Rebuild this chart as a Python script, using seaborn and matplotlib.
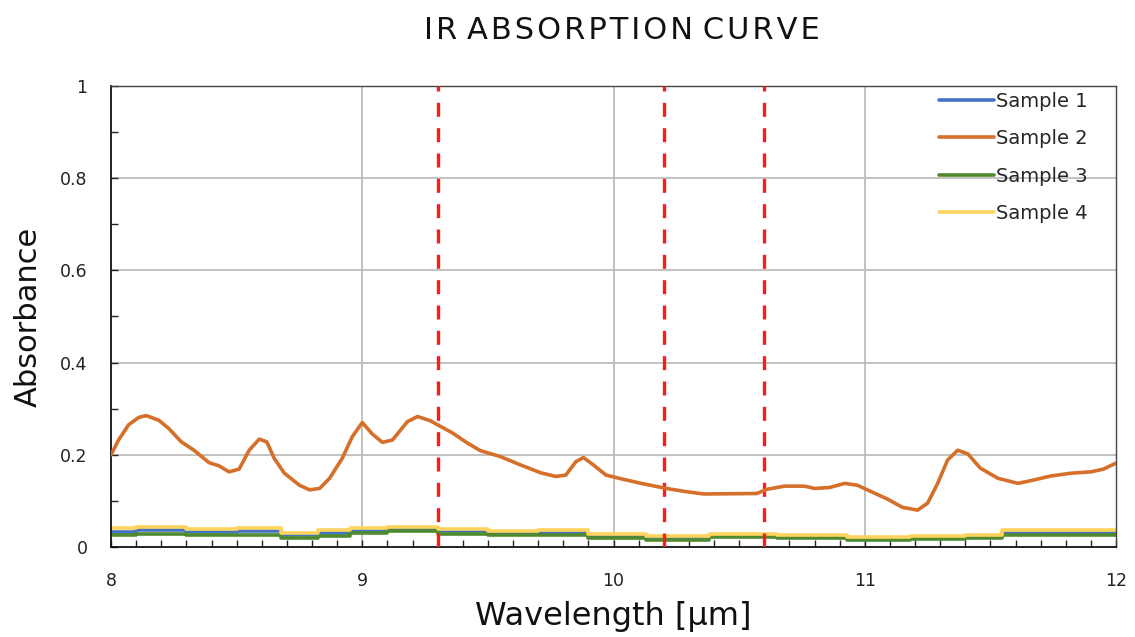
import numpy as np
import pandas as pd
import seaborn as sns
from matplotlib import pyplot as plt

# wavelength (um) and absorbance
wl2 = [8.0, 8.03, 8.07, 8.11, 8.14, 8.19, 8.23, 8.28, 8.33, 8.39, 8.43, 8.47, 8.51, 8.55,
       8.59, 8.62, 8.65, 8.69, 8.75, 8.79, 8.83, 8.87, 8.92, 8.96, 9.0, 9.04, 9.08, 9.12,
       9.18, 9.22, 9.27, 9.31, 9.36, 9.42, 9.47, 9.55, 9.63, 9.71, 9.77, 9.81, 9.85, 9.88,
       9.92, 9.97, 10.03, 10.11, 10.21, 10.29, 10.36, 10.57, 10.61, 10.68, 10.76, 10.80,
       10.86, 10.92, 10.97, 11.01, 11.09, 11.15, 11.21, 11.25, 11.29, 11.33, 11.37, 11.41,
       11.46, 11.53, 11.61, 11.67, 11.74, 11.82, 11.90, 11.95, 12.0]
sample2 = [0.200, 0.232, 0.265, 0.281, 0.285, 0.275, 0.257, 0.228, 0.210, 0.183, 0.176,
           0.163, 0.169, 0.210, 0.234, 0.228, 0.192, 0.160, 0.134, 0.124, 0.127, 0.149,
           0.192, 0.239, 0.270, 0.245, 0.227, 0.232, 0.272, 0.283, 0.274, 0.262, 0.247,
           0.225, 0.209, 0.196, 0.178, 0.161, 0.153, 0.156, 0.185, 0.194, 0.178, 0.156,
           0.148, 0.138, 0.127, 0.120, 0.115, 0.116, 0.125, 0.132, 0.132, 0.127, 0.129,
           0.138, 0.134, 0.124, 0.104, 0.086, 0.080, 0.095, 0.138, 0.189, 0.210, 0.202,
           0.171, 0.149, 0.138, 0.145, 0.154, 0.160, 0.163, 0.169, 0.182]

wl_low = [8.0, 8.2, 8.4, 8.6, 8.75, 8.9, 9.0, 9.2, 9.4, 9.6, 9.8, 10.0, 10.26, 10.5,
          10.8, 11.06, 11.3, 11.5, 11.59, 11.8, 12.0]
sample1 = [0.033, 0.036, 0.033, 0.034, 0.026, 0.030, 0.035, 0.039, 0.034, 0.030, 0.031,
           0.024, 0.021, 0.024, 0.023, 0.019, 0.020, 0.022, 0.031, 0.030, 0.030]
sample3 = [0.026, 0.029, 0.026, 0.027, 0.020, 0.024, 0.030, 0.035, 0.029, 0.025, 0.027,
           0.020, 0.015, 0.021, 0.019, 0.015, 0.017, 0.019, 0.026, 0.026, 0.026]
sample4 = [0.041, 0.044, 0.040, 0.041, 0.030, 0.036, 0.041, 0.043, 0.040, 0.035, 0.037,
           0.029, 0.024, 0.029, 0.027, 0.022, 0.024, 0.027, 0.037, 0.036, 0.036]

red_lines = [9.3, 10.2, 10.6]

series = [('Sample 1', wl_low, sample1, '#4472C4'),
          ('Sample 2', wl2, sample2, '#D56F2A'),
          ('Sample 3', wl_low, sample3, '#4F8A2F'),
          ('Sample 4', wl_low, sample4, '#FFD45C')]

sns.set_style('white')
plt.rcParams['font.family'] = ['DejaVu Sans']

fig = plt.figure(figsize=(11.35, 6.37), dpi=100)
ax = fig.add_axes([0.0978, 0.1413, 0.8855, 0.7237])

ax.grid(False)
for v in [0.2, 0.4, 0.6, 0.8, 1.0]:
    ax.axhline(v, color='#bdbdbd', lw=1.3, zorder=0)
for v in [9, 10, 11]:
    ax.axvline(v, color='#bdbdbd', lw=1.3, zorder=0)

for name, x, y, c in series:
    d = pd.DataFrame({'wl': x, 'abs': y})
    if name == 'Sample 2':
        sns.lineplot(data=d, x='wl', y='abs', ax=ax, color=c, lw=2.6, label=name,
                     sort=False, estimator=None, zorder=4)
    else:
        sns.lineplot(data=d, x='wl', y='abs', ax=ax, color=c, lw=2.6, label=name,
                     sort=False, estimator=None, drawstyle='steps-mid', zorder=2)

for v in red_lines:
    ax.axvline(v, color='#ff1a1a', lw=2.4, ls=(0, (4.2, 3.4)), zorder=3)

ax.set_xlim(8, 12)
ax.set_ylim(0, 1)
ax.set_xticks([8, 9, 10, 11, 12])
ax.set_xticks(np.arange(8, 12.01, 0.1), minor=True)
ax.set_yticks([0, 0.2, 0.4, 0.6, 0.8, 1])
ax.set_yticks(np.arange(0, 1.01, 0.1), minor=True)
ax.set_yticklabels(['0', '0.2', '0.4', '0.6', '0.8', '1'])
ax.tick_params(axis='both', which='both', direction='in', labelsize=12.5,
               colors='#222222', bottom=True, left=True)
ax.tick_params(axis='both', which='minor', length=5, width=1)
ax.tick_params(axis='both', which='major', length=5, width=1)
ax.tick_params(axis='x', which='major', pad=18)
ax.tick_params(axis='y', which='major', pad=17)

for s in ['left', 'bottom']:
    ax.spines[s].set_color('#111111')
    ax.spines[s].set_linewidth(1.3)
for s in ['top', 'right']:
    ax.spines[s].set_color('#444444')
    ax.spines[s].set_linewidth(1.0)

ax.set_xlabel('Wavelength [µm]', fontsize=23, color='#111111', labelpad=8)
ax.set_ylabel('Absorbance', fontsize=22, color='#111111')
ax.yaxis.set_label_coords(-0.068, 0.5)
title = '\u200a'.join('IR') + ' ' + '\u200a'.join('ABSORPTION') + ' ' + '\u200a'.join('CURVE')
fig.suptitle(title, x=0.548, y=0.975, fontsize=22, color='#111111')

leg = ax.legend(loc='upper right', frameon=False, fontsize=14, labelspacing=0.95,
                handlelength=2.8, handletextpad=0.1, borderaxespad=0.3,
                bbox_to_anchor=(0.985, 1.017))
for line in leg.get_lines():
    line.set_linewidth(2.6)

fig.savefig('out.png', dpi=100)
